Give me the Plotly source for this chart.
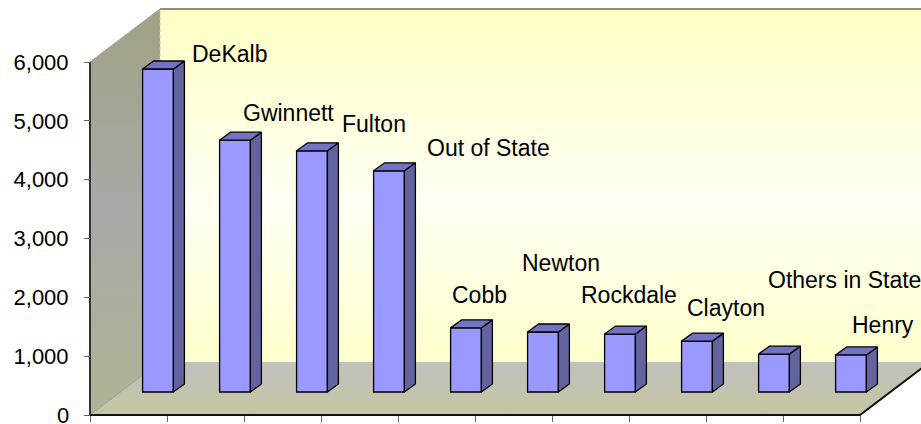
import plotly.graph_objects as go

COUNTIES = ["DeKalb", "Gwinnett", "Fulton", "Out of State", "Cobb", "Newton",
            "Rockdale", "Clayton", "Others in State", "Henry"]
VALUES = [5490, 4280, 4100, 3760, 1090, 1020, 985, 865, 645, 630]
Y_TICKS = [0, 1000, 2000, 3000, 4000, 5000, 6000]

# label offsets in px from the front top-left corner of each bar
LABEL_DX = [47, 21, 43, 51, -1, -8, -26, 3, 7, 14]
LABEL_DY = [15, 27, 27, 23, 33, 69, 39, 33, 74, 30]

W, H = 921, 424
AXIS_PX = 90                       # x position of the value axis
X_RANGE = [-AXIS_PX / 77, (W - AXIS_PX) / 77]
Y_RANGE = [-153, 7054]
WALL_DX, WALL_DY = 0.909, 901      # depth of the fake 3d box
BAR_LIFT, BAR_SHIFT = 391, 0.383   # bars stand half way back on the floor
BAR_W, BAR_DX, BAR_DY = 0.40, 0.143, 136
FONT = "Liberation Sans, Arial, sans-serif"


def line(xs, ys, color, width, dash="solid"):
    return go.Scatter(x=xs, y=ys, mode="lines", line=dict(color=color, width=width, dash=dash),
                      hoverinfo="skip", showlegend=False)


def panel(xs, ys, scale):
    return go.Scatter(x=xs, y=ys, mode="none", fill="toself",
                      fillgradient=dict(type="vertical", colorscale=scale),
                      hoverinfo="skip", showlegend=False)


top = Y_TICKS[-1]
n = len(VALUES)
fig = go.Figure()

# walls and floor
fig.add_trace(panel([0, 0, WALL_DX, WALL_DX], [0, top, top + WALL_DY, WALL_DY],
                    [[0, "#B2B294"], [0.5, "#A9A9A7"], [1, "#A1A185"]]))
fig.add_trace(panel([WALL_DX, WALL_DX, 12, 12], [WALL_DY, top + WALL_DY, top + WALL_DY, WALL_DY],
                    [[0, "#FFFFCC"], [0.45, "#FFFFF4"], [1, "#FFFFC4"]]))
fig.add_trace(panel([0, n, n + WALL_DX, WALL_DX], [0, 0, WALL_DY, WALL_DY],
                    [[0, "#C6C6A2"], [1, "#C0C0BE"]]))

# box edges
fig.add_trace(line([WALL_DX, 12], [top + WALL_DY] * 2, "#8C8C8C", 2))
fig.add_trace(line([0, WALL_DX], [top, top + WALL_DY], "#A0A0A0", 1))
fig.add_trace(line([WALL_DX, WALL_DX], [WALL_DY, top + WALL_DY], "#BBBBBB", 1, "dot"))
fig.add_trace(line([0, WALL_DX], [0, WALL_DY], "#9A9A9A", 1))
fig.add_trace(line([0, n, n + WALL_DX], [0, 0, WALL_DY], "#111111", 2))
fig.add_trace(line([0, 0], [0, top], "#333333", 2))

# bars on an overlay subplot so they sit above the walls
centers = [i + 0.5 + BAR_SHIFT for i in range(n)]
fig.add_trace(go.Bar(x=centers, y=VALUES, base=BAR_LIFT, width=BAR_W,
                     marker=dict(color="#9999FF", line=dict(color="black", width=1.3)),
                     xaxis="x2", yaxis="y2", hoverinfo="skip", showlegend=False))

side_x, side_y, top_x, top_y = [], [], [], []
for c, v in zip(centers, VALUES):
    xl, xr = c - BAR_W / 2, c + BAR_W / 2
    t = BAR_LIFT + v
    side_x += [xr, xr, xr + BAR_DX, xr + BAR_DX, xr, None]
    side_y += [BAR_LIFT, t, t + BAR_DY, BAR_LIFT + BAR_DY, BAR_LIFT, None]
    top_x += [xl, xr, xr + BAR_DX, xl + BAR_DX, xl, None]
    top_y += [t, t, t + BAR_DY, t + BAR_DY, t, None]

for xs, ys, color in [(side_x, side_y, "#63639F"), (top_x, top_y, "#7373C6")]:
    fig.add_trace(go.Scatter(x=xs, y=ys, mode="lines", fill="toself", fillcolor=color,
                             line=dict(color="black", width=1.3),
                             xaxis="x2", yaxis="y2", hoverinfo="skip", showlegend=False))

for c, v, name, dx, dy in zip(centers, VALUES, COUNTIES, LABEL_DX, LABEL_DY):
    fig.add_annotation(x=c - BAR_W / 2, y=BAR_LIFT + v, xref="x2", yref="y2", text=name,
                       showarrow=False, xanchor="left", yanchor="middle",
                       xshift=dx, yshift=dy, font=dict(family=FONT, size=23, color="black"))

# the 0 label sits half off the bottom edge, plotly would drop it as a tick label
tick_text = [f"{v:,}" if v else "" for v in Y_TICKS]
fig.add_annotation(x=AXIS_PX / W, y=Y_TICKS[0], xref="paper", yref="y", text=f"{Y_TICKS[0]:,}",
                   showarrow=False, xanchor="right", yanchor="middle", xshift=-19,
                   font=dict(family=FONT, size=22, color="black"))

fig.update_layout(
    width=W, height=H,
    margin=dict(l=0, r=0, t=0, b=0),
    paper_bgcolor="white", plot_bgcolor="white",
    showlegend=False,
    xaxis=dict(range=X_RANGE, domain=[0, 1], anchor="free", position=9 / H,
               showgrid=False, zeroline=False, showline=False,
               tickvals=list(range(n + 1)), showticklabels=False,
               ticks="outside", ticklen=6, tickcolor="#666666", tickwidth=1),
    yaxis=dict(range=Y_RANGE, domain=[0, 1], anchor="free", position=AXIS_PX / W,
               showgrid=False, zeroline=False, showline=False,
               tickvals=Y_TICKS, ticktext=tick_text, ticks="outside", ticklen=6,
               tickcolor="#666666", tickwidth=1, ticklabelstandoff=11,
               tickfont=dict(family=FONT, size=22, color="black")),
    xaxis2=dict(range=X_RANGE, overlaying="x", anchor="y2", visible=False),
    yaxis2=dict(range=Y_RANGE, overlaying="y", anchor="x2", visible=False),
)

# the page keeps the browser's default body margin otherwise
fig.write_html("out.html", config={"displayModeBar": False},
               post_script="document.body.style.margin='0';"
                           "document.documentElement.style.overflow='hidden';")
